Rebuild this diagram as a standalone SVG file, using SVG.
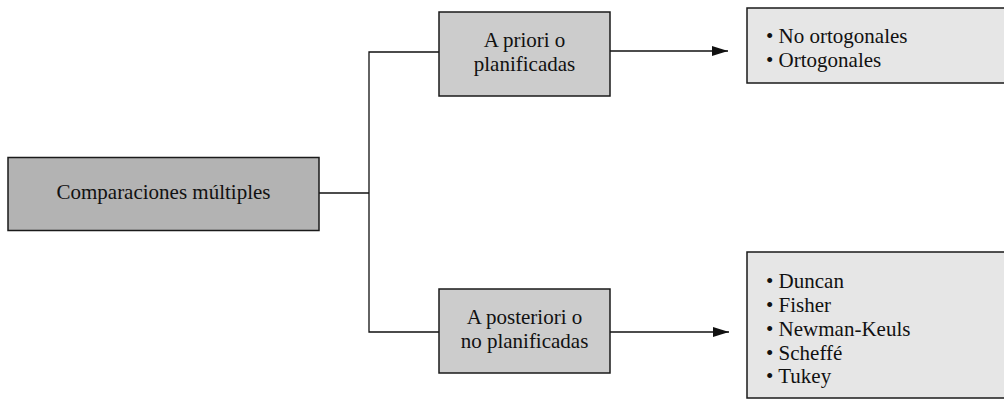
<svg xmlns="http://www.w3.org/2000/svg" width="1004" height="400" viewBox="0 0 1004 400">
<style>
.box{stroke:#1a1a1a;stroke-width:1.5}
.t{font-family:"Liberation Serif","Times New Roman",serif;font-size:21px;fill:#111}
.c{text-anchor:middle}
.ln{fill:none;stroke:#111;stroke-width:1.3}
</style>
<defs>
<marker id="ah" markerWidth="16" markerHeight="10" refX="16" refY="5" orient="auto" markerUnits="userSpaceOnUse">
<path d="M0,0 L16,5 L0,10 Z" fill="#111"/>
</marker>
</defs>
<rect width="1004" height="400" fill="#fff"/>
<g id="connectors">
<line class="ln" x1="319" y1="193" x2="369" y2="193"/>
<polyline class="ln" points="439,52 369,52 369,332 439,332"/>
<line class="ln" x1="610" y1="51" x2="728" y2="51" marker-end="url(#ah)"/>
<line class="ln" x1="610" y1="332" x2="729" y2="332" marker-end="url(#ah)"/>
</g>
<g id="main">
<rect class="box" x="8" y="157.5" width="311" height="73" fill="#b3b3b3"/>
<text class="t c" x="163.5" y="199">Comparaciones múltiples</text>
</g>
<g id="apriori">
<rect class="box" x="439" y="12" width="171" height="84" fill="#cccccc"/>
<text class="t c" x="524.5" y="47">A priori o</text>
<text class="t c" x="524.5" y="71">planificadas</text>
</g>
<g id="aposteriori">
<rect class="box" x="439" y="289" width="171" height="84" fill="#cccccc"/>
<text class="t c" x="524.5" y="324">A posteriori o</text>
<text class="t c" x="524.5" y="348">no planificadas</text>
</g>
<g id="ortogonales">
<rect class="box" x="747" y="8" width="270" height="75" fill="#e6e6e6"/>
<text class="t" x="766" y="43">• No ortogonales</text>
<text class="t" x="766" y="67">• Ortogonales</text>
</g>
<g id="posthoc">
<rect class="box" x="747" y="252" width="270" height="146" fill="#e6e6e6"/>
<text class="t" x="766" y="288">• Duncan</text>
<text class="t" x="766" y="312">• Fisher</text>
<text class="t" x="766" y="336">• Newman-Keuls</text>
<text class="t" x="766" y="360">• Scheffé</text>
<text class="t" x="766" y="383">• Tukey</text>
</g>
</svg>
